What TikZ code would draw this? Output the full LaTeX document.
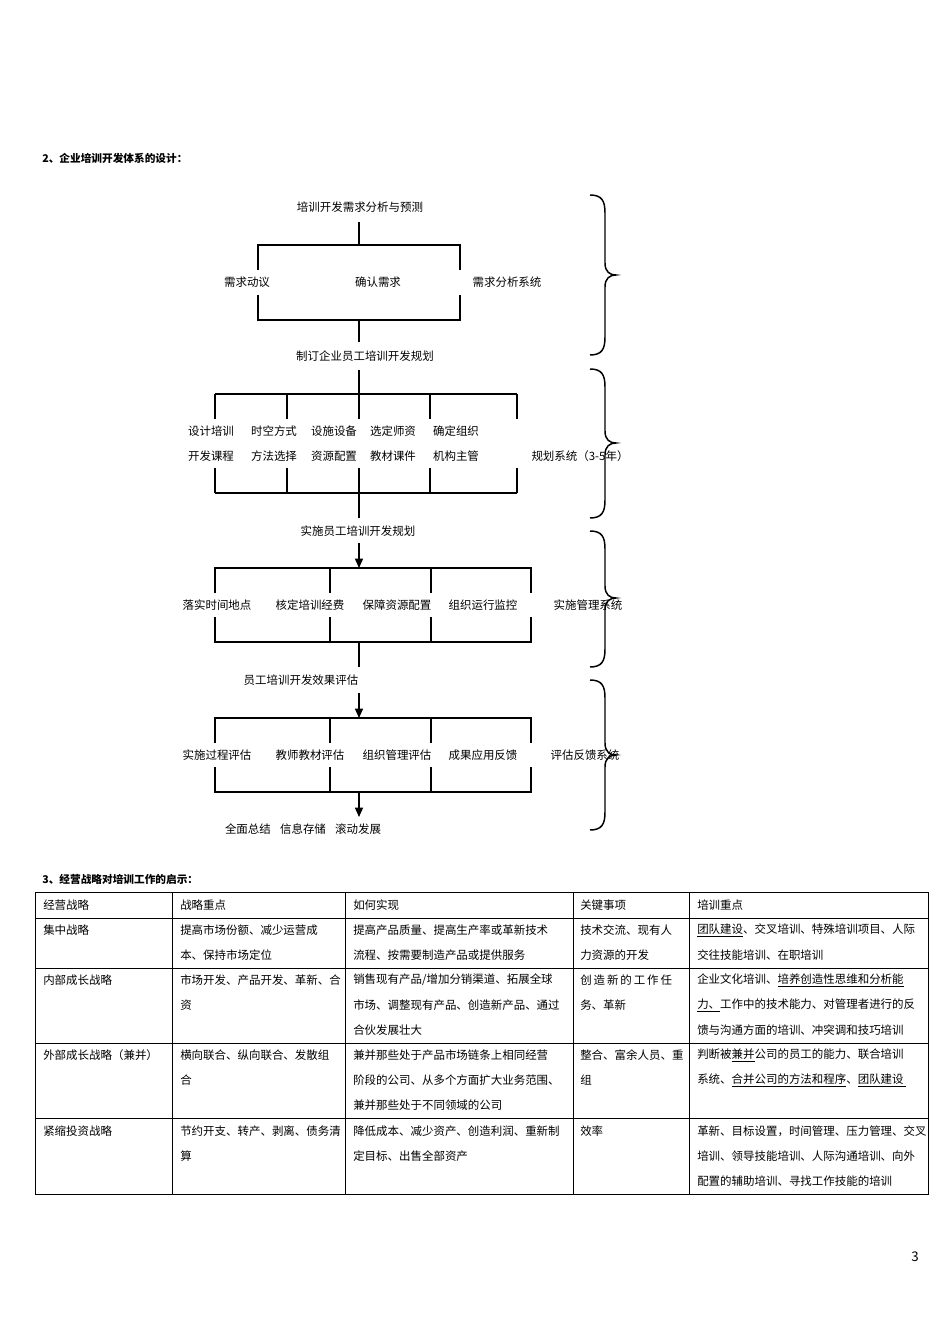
\documentclass[tikz,border=0pt]{standalone}
\usepackage{fontspec}
\setmainfont{Noto Sans CJK SC}
\usetikzlibrary{arrows.meta}
\newcommand\bracepath[3]{\draw[brc] (590,#1) .. controls (602,#1) and (605,#1+6) .. (605,#1+18) -- (605,#3-12) .. controls (605,#3-3) and (610,#3) .. (616,#3) .. controls (610,#3) and (605,#3+3) .. (605,#3+12) -- (605,#2-18) .. controls (605,#2-6) and (602,#2) .. (590,#2);}
\begin{document}
\begin{tikzpicture}[x=0.75pt,y=-0.75pt,
  lbl/.style={font=\fontsize{8.6pt}{10pt}\selectfont,inner sep=0pt,anchor=center},
  ttl/.style={font=\bfseries\fontsize{8pt}{10pt}\selectfont,inner sep=0pt,anchor=west},
  cell/.style={font=\fontsize{8.6pt}{10pt}\selectfont,inner sep=0pt,anchor=west},
  ln/.style={line width=1.1pt},
  ar/.style={line width=1.1pt,-{Triangle[length=7pt,width=6pt]}},
  brc/.style={line width=1.1pt},
  tb/.style={line width=0.6pt}]
\useasboundingbox[fill=white] (0,0) rectangle (950,1344);
\node[ttl] (t2) at (42,158) {2、企业培训开发体系的设计：};
% stage 1
\node[lbl] (n1) at (360,207) {培训开发需求分析与预测};
\draw[ln] (359,222) -- (359,245);
\draw[ln] (258,270) -- (258,245) -- (460,245) -- (460,270);
\draw[ln] (258,295) -- (258,320) -- (460,320) -- (460,295);
\node[lbl] (a1) at (247,282) {需求动议};
\node[lbl] (a2) at (378,282) {确认需求};
\node[lbl] (a3) at (507,282) {需求分析系统};
\draw[ln] (359,320) -- (359,342);
\node[lbl] (n2) at (365,356) {制订企业员工培训开发规划};
% stage 2
\draw[ln] (359,370) -- (359,419);
\draw[ln] (215,394) -- (517,394);
\foreach \x in {215,287,430,517} \draw[ln] (\x,394) -- (\x,419);
\draw[ln] (215,493) -- (517,493);
\foreach \x in {215,287,430,517} \draw[ln] (\x,468) -- (\x,493);
\draw[ln] (359,468) -- (359,518);
\node[lbl] (b1) at (211,431) {设计培训}; \node[lbl] (b1b) at (211,456) {开发课程};
\node[lbl] (b2) at (274,431) {时空方式}; \node[lbl] (b2b) at (274,456) {方法选择};
\node[lbl] (b3) at (334,431) {设施设备}; \node[lbl] (b3b) at (334,456) {资源配置};
\node[lbl] (b4) at (393,431) {选定师资}; \node[lbl] (b4b) at (393,456) {教材课件};
\node[lbl] (b5) at (456,431) {确定组织}; \node[lbl] (b5b) at (456,456) {机构主管};
\node[lbl] (b6) at (580,456) {规划系统（3-5年）};
% stage 3
\node[lbl] (n3) at (358,531) {实施员工培训开发规划};
\draw[ar] (359,543) -- (359,568);
\draw[ln] (215,593) -- (215,568) -- (531,568) -- (531,593);
\draw[ln] (215,617) -- (215,642) -- (531,642) -- (531,617);
\foreach \x in {330,431} {\draw[ln] (\x,568) -- (\x,593); \draw[ln] (\x,617) -- (\x,642);}
\node[lbl] (c1) at (217,605) {落实时间地点};
\node[lbl] (c2) at (310,605) {核定培训经费};
\node[lbl] (c3) at (397,605) {保障资源配置};
\node[lbl] (c4) at (483,605) {组织运行监控};
\node[lbl] (c5) at (588,605) {实施管理系统};
\draw[ln] (359,642) -- (359,667);
% stage 4
\node[lbl] (n4) at (301,680) {员工培训开发效果评估};
\draw[ar] (359,693) -- (359,718);
\draw[ln] (215,743) -- (215,718) -- (531,718) -- (531,743);
\draw[ln] (215,767) -- (215,792) -- (531,792) -- (531,767);
\foreach \x in {330,431} {\draw[ln] (\x,718) -- (\x,743); \draw[ln] (\x,767) -- (\x,792);}
\node[lbl] (d1) at (217,755) {实施过程评估};
\node[lbl] (d2) at (310,755) {教师教材评估};
\node[lbl] (d3) at (397,755) {组织管理评估};
\node[lbl] (d4) at (483,755) {成果应用反馈};
\node[lbl] (d5) at (585,755) {评估反馈系统};
\draw[ar] (359,792) -- (359,817);
\node[lbl] (n5) at (303,829) {全面总结\hspace{0.8em}信息存储\hspace{0.8em}滚动发展};
% braces
\bracepath{195}{355}{275}
\bracepath{369}{518}{443}
\bracepath{531}{667}{598}
\bracepath{680}{830}{755}
% table
\node[ttl] (t3) at (42,879) {3、经营战略对培训工作的启示：};
\draw[tb] (35,892) rectangle (928,1194);
\foreach \y in {918,968,1043,1118} \draw[tb] (35,\y) -- (928,\y);
\foreach \x in {172,345,573,689} \draw[tb] (\x,892) -- (\x,1194);
\node[cell] at (43,905) {经营战略};
\node[cell] at (180,905) {战略重点};
\node[cell] at (353,905) {如何实现};
\node[cell] at (580,905) {关键事项};
\node[cell] at (697,905) {培训重点};
\node[cell] at (43,930) {集中战略};
\node[cell] at (180,930) {提高市场份额、减少运营成};
\node[cell] at (180,955) {本、保持市场定位};
\node[cell] at (353,930) {提高产品质量、提高生产率或革新技术};
\node[cell] at (353,955) {流程、按需要制造产品或提供服务};
\node[cell] at (580,930) {技术交流、现有人};
\node[cell] at (580,955) {力资源的开发};
\node[cell] at (697,930) {\underline{团队建设}、交叉培训、特殊培训项目、人际};
\node[cell] at (697,955) {交往技能培训、在职培训};
\node[cell] at (43,980) {内部成长战略};
\node[cell] at (180,980) {市场开发、产品开发、革新、合};
\node[cell] at (180,1005) {资};
\node[cell] at (353,980) {销售现有产品/增加分销渠道、拓展全球};
\node[cell] at (353,1005) {市场、调整现有产品、创造新产品、通过};
\node[cell] at (353,1030) {合伙发展壮大};
\node[cell] at (580,980) {创\,造\,新\,的\,工\,作\,任};
\node[cell] at (580,1005) {务、革新};
\node[cell] at (697,980) {企业文化培训、\underline{培养创造性思维和分析能}};
\node[cell] at (697,1005) {\underline{力、}工作中的技术能力、对管理者进行的反};
\node[cell] at (697,1030) {馈与沟通方面的培训、冲突调和技巧培训};
\node[cell] at (43,1055) {外部成长战略（兼并）};
\node[cell] at (180,1055) {横向联合、纵向联合、发散组};
\node[cell] at (180,1080) {合};
\node[cell] at (353,1055) {兼并那些处于产品市场链条上相同经营};
\node[cell] at (353,1080) {阶段的公司、从多个方面扩大业务范围、};
\node[cell] at (353,1105) {兼并那些处于不同领域的公司};
\node[cell] at (580,1055) {整合、富余人员、重};
\node[cell] at (580,1080) {组};
\node[cell] at (697,1055) {判断被\underline{兼并}公司的员工的能力、联合培训};
\node[cell] at (697,1080) {系统、\underline{合并公司的方法和程序}、\underline{团队建设\,}};
\node[cell] at (43,1131) {紧缩投资战略};
\node[cell] at (180,1131) {节约开支、转产、剥离、债务清};
\node[cell] at (180,1156) {算};
\node[cell] at (353,1131) {降低成本、减少资产、创造利润、重新制};
\node[cell] at (353,1156) {定目标、出售全部资产};
\node[cell] at (580,1131) {效率};
\node[cell] at (697,1131) {革新、目标设置，时间管理、压力管理、交叉};
\node[cell] at (697,1156) {培训、领导技能培训、人际沟通培训、向外};
\node[cell] at (697,1181) {配置的辅助培训、寻找工作技能的培训};
\node[lbl] (pg) at (915,1257) {\fontsize{10pt}{12pt}\selectfont 3};
\end{tikzpicture}
\end{document}
